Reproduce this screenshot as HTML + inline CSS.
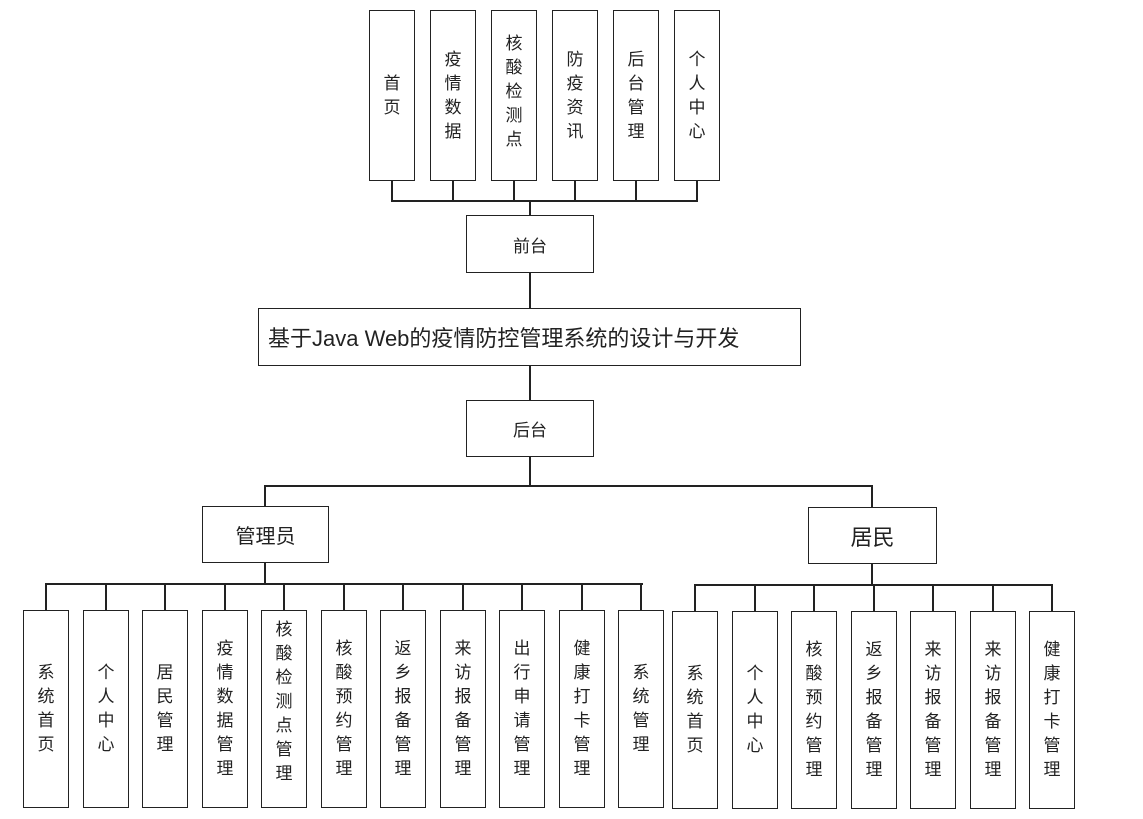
<!DOCTYPE html>
<html><head><meta charset="utf-8"><style>
body{margin:0;background:#fff;width:1143px;height:819px;position:relative;overflow:hidden;font-family:"Liberation Sans","Noto Sans CJK SC",sans-serif;color:#222}
.b{position:absolute;border:1.5px solid #222;box-sizing:border-box;background:#fff;display:flex;align-items:center;justify-content:center;text-align:center}
.v{font-size:17px;line-height:24px;width:1em;word-break:break-all}
.l{position:absolute;background:#222}
</style></head><body>
<!-- top boxes -->
<div class="b" style="left:369px;top:10px;width:46px;height:171px"><span class="v">首页</span></div>
<div class="b" style="left:430px;top:10px;width:46px;height:171px"><span class="v">疫情数据</span></div>
<div class="b" style="left:491px;top:10px;width:46px;height:171px"><span class="v" style="margin-top:-8px">核酸检测点</span></div>
<div class="b" style="left:552px;top:10px;width:46px;height:171px"><span class="v">防疫资讯</span></div>
<div class="b" style="left:613px;top:10px;width:46px;height:171px"><span class="v">后台管理</span></div>
<div class="b" style="left:674px;top:10px;width:46px;height:171px"><span class="v">个人中心</span></div>
<div class="l" style="left:391px;top:180px;width:2px;height:21px"></div>
<div class="l" style="left:452px;top:180px;width:2px;height:21px"></div>
<div class="l" style="left:513px;top:180px;width:2px;height:21px"></div>
<div class="l" style="left:574px;top:180px;width:2px;height:21px"></div>
<div class="l" style="left:635px;top:180px;width:2px;height:21px"></div>
<div class="l" style="left:696px;top:180px;width:2px;height:21px"></div>
<div class="l" style="left:391px;top:200px;width:307px;height:2px"></div>
<div class="l" style="left:529px;top:200px;width:2px;height:110px"></div>
<div class="b" style="left:466px;top:215px;width:128px;height:58px;font-size:17px">前台</div>
<div class="b" style="left:258px;top:308px;width:543px;height:58px;font-size:22px;justify-content:flex-start;padding-left:9px">基于Java Web的疫情防控管理系统的设计与开发</div>
<div class="l" style="left:529px;top:365px;width:2px;height:122px"></div>
<div class="b" style="left:466px;top:400px;width:128px;height:57px;font-size:17px">后台</div>
<div class="l" style="left:264px;top:485px;width:609px;height:2px"></div>
<div class="l" style="left:264px;top:485px;width:2px;height:22px"></div>
<div class="l" style="left:871px;top:485px;width:2px;height:22px"></div>
<div class="b" style="left:202px;top:506px;width:127px;height:57px;font-size:20px">管理员</div>
<div class="b" style="left:808px;top:507px;width:129px;height:57px;font-size:22px">居民</div>
<div class="l" style="left:264px;top:562px;width:2px;height:23px"></div>
<div class="l" style="left:871px;top:563px;width:2px;height:22px"></div>
<div class="l" style="left:46px;top:583px;width:597px;height:2px"></div>
<div class="l" style="left:694px;top:584px;width:359px;height:2px"></div>
<div id="adm"></div>
<script>
var a=["系统首页","个人中心","居民管理","疫情数据管理","核酸检测点管理","核酸预约管理","返乡报备管理","来访报备管理","出行申请管理","健康打卡管理","系统管理"];
var h="";
a.forEach(function(t,i){var x=Math.round(23+i*59.5);
h+='<div class="l" style="left:'+(x+22)+'px;top:583px;width:2px;height:28px"></div>';
h+='<div class="b" style="left:'+x+'px;top:610px;width:46px;height:198px"><span class="v"'+(t.length==7?' style="margin-top:-14px"':'')+'>'+t+'</span></div>';});
var r=["系统首页","个人中心","核酸预约管理","返乡报备管理","来访报备管理","来访报备管理","健康打卡管理"];
r.forEach(function(t,i){var x=Math.round(672+i*59.5);
h+='<div class="l" style="left:'+(x+22)+'px;top:584px;width:2px;height:28px"></div>';
h+='<div class="b" style="left:'+x+'px;top:611px;width:46px;height:198px"><span class="v">'+t+'</span></div>';});
document.getElementById("adm").innerHTML=h;
</script>
</body></html>
